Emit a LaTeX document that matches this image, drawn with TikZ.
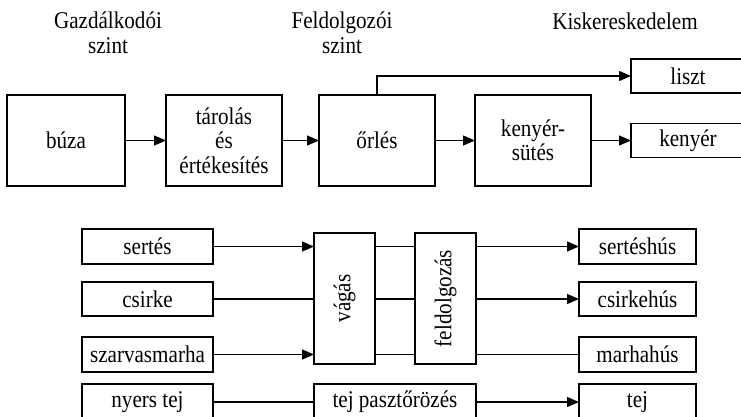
\documentclass[tikz,border=0pt]{standalone}
\usepackage{fontspec}
\setmainfont{Liberation Serif}[FakeStretch=0.88]
\usetikzlibrary{arrows.meta}
\tikzset{
  box/.style={draw, line width=1.2pt, inner sep=0pt, outer sep=0pt, align=center},
  conn/.style={line width=1.2pt},
  arr/.style={line width=1.2pt, -{Triangle[length=12pt,width=10pt]}},
  head/.style={align=center, inner sep=0pt}
}
\begin{document}
\begin{tikzpicture}[x=1pt,y=-1pt,font=\fontsize{24}{24.5}\selectfont]
\useasboundingbox (0,0) rectangle (741,417);
\clip (0,0) rectangle (741,417);
% headings
\node[head] (h1) at (108,33) {Gazdálkodói\\szint};
\node[head] (h2) at (342,33) {Feldolgozói\\szint};
\node[head] (h3) at (625,21) {Kiskereskedelem};
% top chain
\node[box, minimum width=118pt, minimum height=91pt] (buza) at (66,140.5) {búza};
\node[box, minimum width=116pt, minimum height=91pt] (tarolas) at (224,140.5) {tárolás\\és\\értékesítés};
\node[box, minimum width=116pt, minimum height=91pt] (orles) at (377,140.5) {őrlés};
\node[box, minimum width=116pt, minimum height=91pt] (kenyersutes) at (533,140.5) {kenyér-\\sütés};
\node[box, minimum width=114pt, minimum height=34pt] (liszt) at (688,76) {liszt};
\node[box, minimum width=114pt, minimum height=34pt] (kenyer) at (688,140.5) {kenyér};
\draw[arr] (buza.east) -- (tarolas.west);
\draw[arr] (tarolas.east) -- (orles.west);
\draw[arr] (orles.east) -- (kenyersutes.west);
\draw[arr] (kenyersutes.east) -- (kenyer.west);
\draw[arr] (orles.north) |- (liszt.west);
% bottom: left column
\node[box, minimum width=131pt, minimum height=35pt] (sertes) at (147.5,246.5) {sertés};
\node[box, minimum width=131pt, minimum height=34pt] (csirke) at (147.5,299) {csirke};
\node[box, minimum width=131pt, minimum height=35pt] (szarvas) at (147.5,354.5) {szarvasmarha};
\node[box, minimum width=131pt, minimum height=36pt] (nyers) at (147.5,402) {nyers tej};
% middle
\node[box, minimum width=61pt, minimum height=131pt] (vagas) at (344.5,298.5) {\rotatebox{90}{vágás}};
\node[box, minimum width=61pt, minimum height=131pt] (feld) at (445.5,298.5) {\rotatebox{90}{feldolgozás}};
\node[box, minimum width=162pt, minimum height=36pt] (paszt) at (395,402) {tej pasztőrözés};
% right column
\node[box, minimum width=117pt, minimum height=35pt] (serteshus) at (637.5,246.5) {sertéshús};
\node[box, minimum width=117pt, minimum height=34pt] (csirkehus) at (637.5,299) {csirkehús};
\node[box, minimum width=117pt, minimum height=35pt] (marhahus) at (637.5,354.5) {marhahús};
\node[box, minimum width=117pt, minimum height=36pt] (tej) at (637.5,402) {tej};
% connectors
\draw[arr] (sertes.east) -- (sertes.east -| vagas.west);
\draw[conn] (csirke.east) -- (csirke.east -| vagas.west);
\draw[arr] (szarvas.east) -- (szarvas.east -| vagas.west);
\draw[conn] (sertes.east -| vagas.east) -- (sertes.east -| feld.west);
\draw[conn] (csirke.east -| vagas.east) -- (csirke.east -| feld.west);
\draw[conn] (szarvas.east -| vagas.east) -- (szarvas.east -| feld.west);
\draw[arr] (serteshus.west -| feld.east) -- (serteshus.west);
\draw[arr] (csirkehus.west -| feld.east) -- (csirkehus.west);
\draw[conn] (marhahus.west -| feld.east) -- (marhahus.west);
\draw[conn] (nyers.east) -- (paszt.west);
\draw[arr] (paszt.east) -- (tej.west);
\end{tikzpicture}
\end{document}
